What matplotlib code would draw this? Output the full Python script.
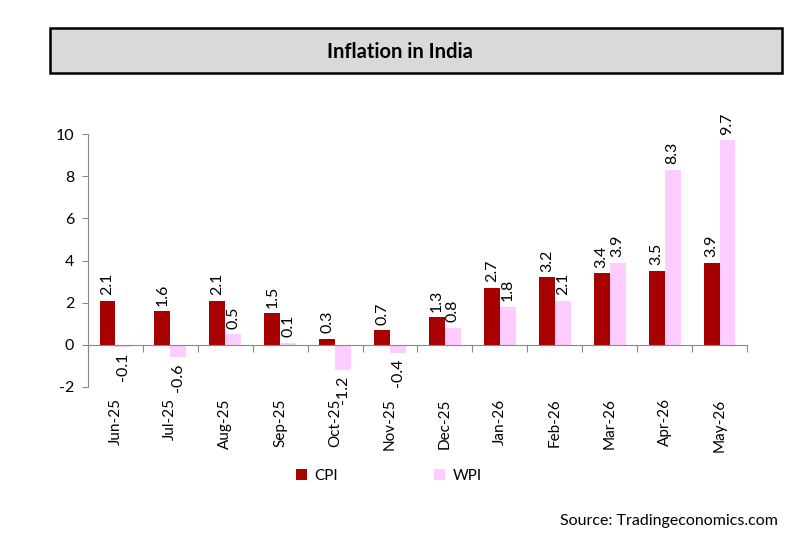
import matplotlib
matplotlib.use("Agg")
import matplotlib.pyplot as plt
from matplotlib.patches import Rectangle, Patch
import numpy as np

months = ["Jun-25", "Jul-25", "Aug-25", "Sep-25", "Oct-25", "Nov-25",
          "Dec-25", "Jan-26", "Feb-26", "Mar-26", "Apr-26", "May-26"]
cpi = [2.1, 1.6, 2.1, 1.5, 0.3, 0.7, 1.3, 2.7, 3.2, 3.4, 3.5, 3.9]
wpi = [-0.1, -0.6, 0.5, 0.1, -1.2, -0.4, 0.8, 1.8, 2.1, 3.9, 8.3, 9.7]
yticks = [-2, 0, 2, 4, 6, 8, 10]

CPI_COLOR = "#A80000"
WPI_COLOR = "#FFCCFF"
FONT = ["Lato", "DejaVu Sans"]
plt.rcParams["font.family"] = FONT

W, H = 792, 543
fig = plt.figure(figsize=(W / 100, H / 100), dpi=100)

# Title box
fig.patches.append(Rectangle((50 / W, 1 - 73 / H), 732 / W, 45 / H,
                             transform=fig.transFigure, facecolor="#D9D9D9",
                             edgecolor="black", linewidth=1.8, zorder=0))
fig.text(400 / W, 1 - 52 / H, "Inflation in India", ha="center", va="center",
         fontsize=14.5, fontweight="bold")

ax = fig.add_axes([88 / W, 1 - 387 / H, (747 - 88) / W, (387 - 134) / H])
x = np.arange(len(months))
bw = 0.29
ax.bar(x - bw / 2, cpi, bw, color=CPI_COLOR, zorder=2)
ax.bar(x + bw / 2, wpi, bw, color=WPI_COLOR, zorder=2)

ax.set_xlim(-0.5, len(months) - 0.5)
ax.set_ylim(-2, 10)
ax.set_yticks(yticks)
ax.set_yticklabels([str(v) for v in yticks], fontsize=11.5)

for s in ["top", "right"]:
    ax.spines[s].set_visible(False)
ax.spines["left"].set_color("#888888")
ax.spines["bottom"].set_position(("data", 0))
ax.spines["bottom"].set_color("#888888")
ax.tick_params(axis="y", length=4, color="#888888", pad=6)
ax.set_xticks(np.arange(len(months) + 1) - 0.5)
ax.set_xticklabels([])
ax.tick_params(axis="x", length=5, color="#888888", direction="out")

trans = ax.get_xaxis_transform()
for i, m in enumerate(months):
    ax.text(i, -0.045, m, rotation=90, ha="center", va="top", fontsize=11,
            transform=trans)

def label(xpos, v):
    if v >= 0:
        ax.annotate(f"{v:.1f}", (xpos, v), xytext=(0, 4), textcoords="offset points",
                    rotation=90, ha="center", va="bottom", fontsize=11.5)
    else:
        ax.annotate(f"{v:.1f}", (xpos, v), xytext=(0, -4), textcoords="offset points",
                    rotation=90, ha="center", va="top", fontsize=11.5)

for i in range(len(months)):
    label(x[i] - bw / 2, cpi[i])
    label(x[i] + bw / 2, wpi[i])

handles = [Patch(facecolor=CPI_COLOR, label="CPI"), Patch(facecolor=WPI_COLOR, label="WPI")]
fig.legend(handles=handles, loc="center", bbox_to_anchor=(389 / W, 1 - 476 / H), ncol=2,
           frameon=False, fontsize=11, handlelength=0.7, handleheight=0.7,
           handletextpad=0.5, columnspacing=6.3)

fig.text(778 / W, 1 - 521 / H, "Source: Tradingeconomics.com", ha="right", va="center",
         fontsize=11.5)

fig.savefig("out.png", dpi=100)
